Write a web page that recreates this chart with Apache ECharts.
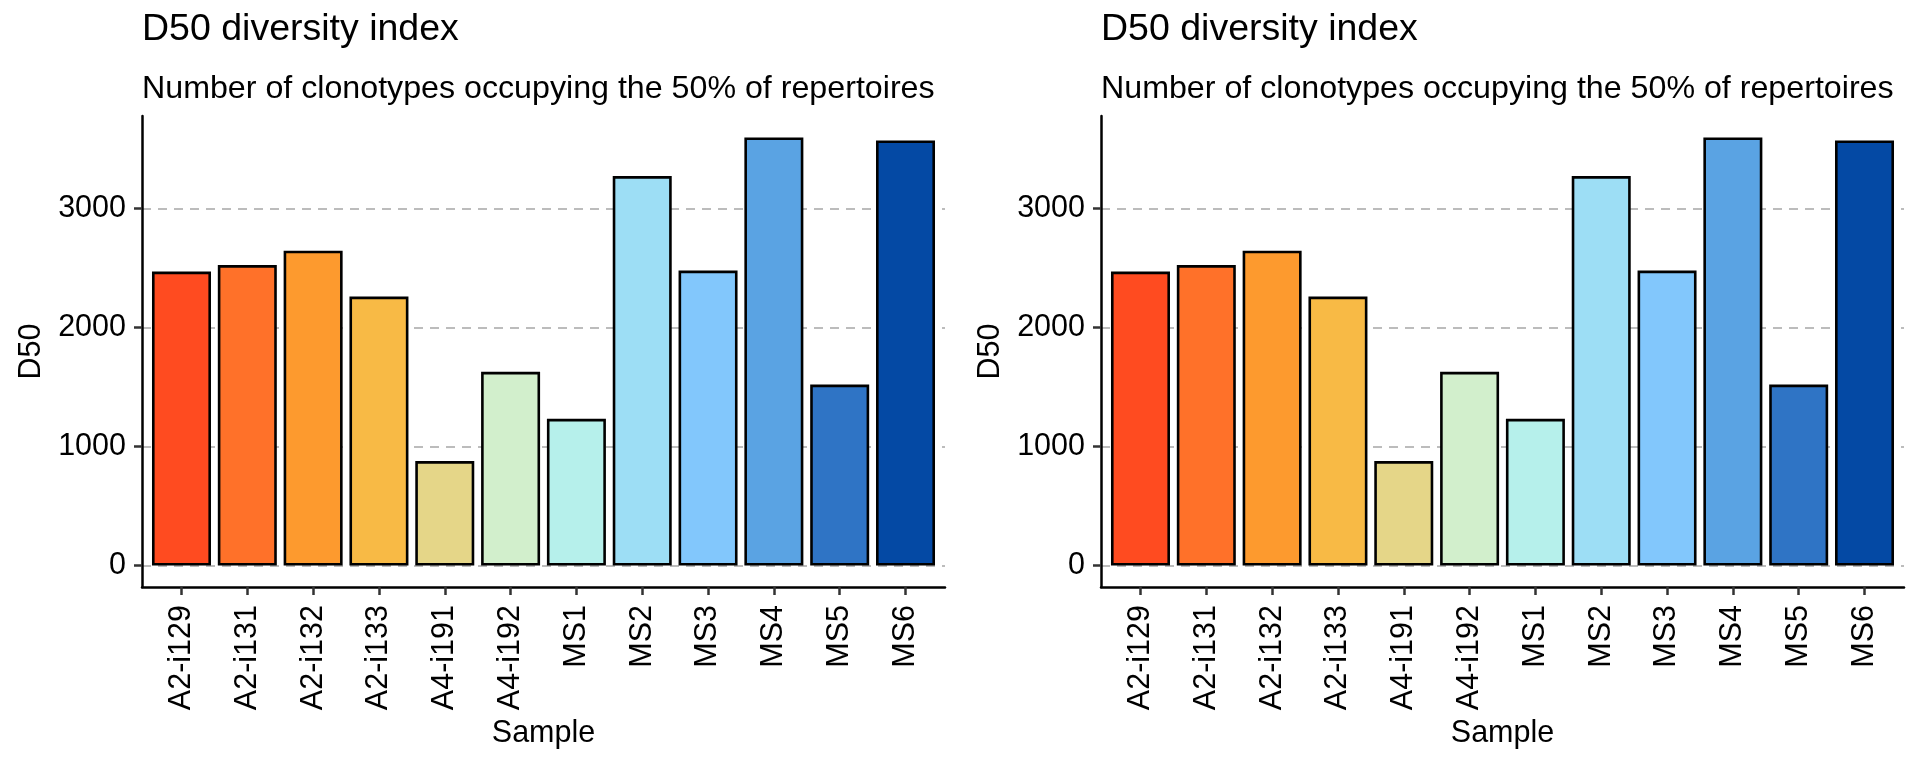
<!DOCTYPE html>
<html>
<head>
<meta charset="utf-8">
<script src="https://cdn.jsdelivr.net/npm/echarts@6/dist/echarts.min.js"></script>
<style>
	html, body { margin: 0; padding: 0; background: #fff; }
	#chart-container { width: 1920px; height: 768px; }
</style>
</head>
<body>
<div id="chart-container"></div>
<script>
const samples = ['A2-i129', 'A2-i131', 'A2-i132', 'A2-i133', 'A4-i191', 'A4-i192', 'MS1', 'MS2', 'MS3', 'MS4', 'MS5', 'MS6'];
const d50 = [2470, 2525, 2645, 2260, 878, 1628, 1233, 3272, 2478, 3597, 1521, 3572];
const barColors = ['#ff4b20', '#ff7129', '#fd9a2e', '#f8ba45', '#e5d688', '#d2efcc', '#b6f0eb', '#9ddef5', '#82c7fc', '#5aa3e3', '#2f74c5', '#0449a4'];
const yTicks = [0, 1000, 2000, 3000];
const titleText = 'D50 diversity index';
const subtitleText = 'Number of clonotypes occupying the 50% of repertoires';

const font = 'Liberation Sans, Arial, Helvetica, sans-serif';
const panels = [142, 1101];

var dom = document.getElementById('chart-container');
var myChart = echarts.init(dom, null, { renderer: 'canvas' });

var option = {
	animation: false,
	backgroundColor: '#fff',
	title: panels.map(x => ({
		text: titleText,
		subtext: subtitleText,
		left: x,
		top: 11,
		padding: 0,
		itemGap: 24,
		textStyle: { fontFamily: font, fontSize: 37.5, fontWeight: 'normal', color: '#000' },
		subtextStyle: { fontFamily: font, fontSize: 32.2, color: '#000' }
	})),
	grid: panels.map(x => ({
		left: x,
		top: 116,
		width: 803,
		bottom: 181,
		containLabel: false
	})),
	xAxis: panels.map((x, k) => ({
		type: 'value',
		gridIndex: k,
		min: -0.6,
		max: samples.length - 0.4,
		name: 'Sample',
		nameLocation: 'middle',
		nameGap: 130,
		nameTextStyle: { fontFamily: font, fontSize: 30.5, color: '#000' },
		axisLine: { show: true, onZero: false, lineStyle: { color: '#000', width: 2.5 } },
		axisTick: { show: true, length: 8, customValues: samples.map((s, i) => i), lineStyle: { color: '#333', width: 2.5 } },
		axisLabel: {
			customValues: samples.map((s, i) => i),
			formatter: v => samples[Math.round(v)],
			rotate: 90,
			margin: 18,
			fontFamily: font,
			fontSize: 30.5,
			color: '#000'
		},
		splitLine: { show: false }
	})),
	yAxis: panels.map((x, k) => ({
		type: 'value',
		gridIndex: k,
		min: -180,
		max: 3777,
		name: 'D50',
		nameLocation: 'middle',
		nameGap: 95,
		nameTextStyle: { fontFamily: font, fontSize: 30.5, color: '#000' },
		axisLine: { show: true, onZero: false, lineStyle: { color: '#000', width: 2.5 } },
		axisTick: { show: true, length: 8, customValues: yTicks, lineStyle: { color: '#333', width: 2.5 } },
		axisLabel: {
			customValues: yTicks,
			formatter: v => String(v),
			margin: 16,
			fontFamily: font,
			fontSize: 30.5,
			color: '#000'
		},
		splitLine: { show: true, lineStyle: { color: '#bcbcbc', width: 2, type: [9, 7] } }
	})),
	series: panels.map((x, k) => ({
		type: 'bar',
		xAxisIndex: k,
		yAxisIndex: k,
		barWidth: 59,
		data: d50.map((v, i) => ({
			value: [i, v],
			itemStyle: { color: barColors[i], borderColor: '#000', borderWidth: 2.6 }
		}))
	}))
};

myChart.setOption(option);
window.addEventListener('resize', myChart.resize);
</script>
</body>
</html>
